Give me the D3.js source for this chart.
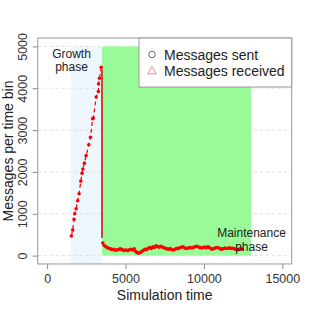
<!DOCTYPE html>
<html lang="en">

<head>
    <meta charset="UTF-8">
    <title>Messages per time bin</title>
    <script src="https://d3js.org/d3.v7.min.js"></script>
    <style>
        body { margin: 0; background: #fff; }
        text { font-family: "Liberation Sans", Arial, sans-serif; }
    </style>
</head>

<body>
    <script>
        // growth phase (time, messages)
        var growthTime = [1550, 1630, 1720, 1760, 1850, 1950, 2040, 2150, 2230, 2280, 2380, 2490, 2660, 2770, 2900, 2950, 3130, 3270, 3280, 3340, 3450];
        var growthValue = [470, 610, 870, 1000, 1120, 1310, 1480, 1780, 1970, 2070, 2210, 2390, 2650, 2830, 3270, 3290, 3790, 3920, 4100, 4240, 4500];

        // maintenance phase, one bin every 100 time units from 3550
        var maintStart = 3550;
        var maintStep = 100;
        var maintValue = [300, 240, 210, 190, 170, 160, 140, 150, 130, 135,
            145, 160, 150, 130, 125, 135, 120, 140, 150, 135,
            160, 100, 70, 60, 75, 105, 125, 150, 140, 175,
            190, 170, 210, 195, 235, 215, 200, 220, 205, 185,
            175, 160, 150, 170, 140, 135, 150, 175, 165, 185,
            200, 210, 190, 170, 175, 185, 195, 180, 200, 210,
            225, 205, 190, 180, 195, 205, 185, 210, 190, 165,
            155, 170, 185, 195, 180, 160, 155, 165, 180, 170,
            175, 185, 170, 175, 160, 150, 140, 155, 165, 150];

        // drop from the last growth bin down to maintenance
        var dropTime = [3500, 3500];
        var dropValue = [4450, 420];

        // phase shading
        var growthPhase = [1500, 3500];
        var maintPhase = [3500, 13000];

        var xTicks = [0, 5000, 10000, 15000];
        var yTicks = [0, 1000, 2000, 3000, 4000, 5000];
        var legendLabels = ["Messages sent", "Messages received"];

        var width = 312;
        var height = 312;

        var x = d3.scaleLinear().domain([0, 15000]).range([47.1, 282.3]);
        var y = d3.scaleLinear().domain([0, 5000]).range([255.6, 46.4]);
        // R style 4% extension for the box
        var boxL = x(-600), boxR = x(15600), boxT = y(5200), boxB = y(-200);

        var svg = d3.select("body")
            .append("svg")
            .attr("width", width)
            .attr("height", height);

        svg.append("rect")
            .attr("x", x(growthPhase[0]))
            .attr("y", y(5000))
            .attr("width", x(growthPhase[1]) - x(growthPhase[0]))
            .attr("height", boxB - y(5000))
            .attr("fill", "#eef6fe");

        svg.selectAll("line.grid")
            .data(yTicks)
            .enter()
            .append("line")
            .attr("class", "grid")
            .attr("x1", boxL)
            .attr("x2", boxR)
            .attr("y1", d => y(d))
            .attr("y2", d => y(d))
            .attr("stroke", "#d8d8d8")
            .attr("stroke-width", 0.8)
            .attr("stroke-dasharray", "3,3");

        svg.append("rect")
            .attr("x", x(maintPhase[0]))
            .attr("y", y(5000))
            .attr("width", x(maintPhase[1]) - x(maintPhase[0]))
            .attr("height", y(0) - y(5000))
            .attr("fill", "#98fb98");

        var growth = growthTime.map((t, i) => [t, growthValue[i]]);
        var maint = maintValue.map((v, i) => [maintStart + i * maintStep, v]);
        var line = d3.line().x(d => x(d[0])).y(d => y(d[1]));

        svg.append("path")
            .attr("d", line(growth))
            .attr("fill", "none")
            .attr("stroke", "#e00")
            .attr("stroke-width", 1.2)
            .attr("stroke-dasharray", "4,3");

        svg.append("path")
            .attr("d", line(dropTime.map((t, i) => [t, dropValue[i]])))
            .attr("fill", "none")
            .attr("stroke", "#d81010")
            .attr("stroke-width", 1.6);

        svg.append("path")
            .attr("d", line(maint))
            .attr("fill", "none")
            .attr("stroke", "#f00")
            .attr("stroke-width", 1.5);

        svg.selectAll("circle.pt")
            .data(growth.concat(maint))
            .enter()
            .append("circle")
            .attr("class", "pt")
            .attr("cx", d => x(d[0]))
            .attr("cy", d => y(d[1]))
            .attr("r", 1.8)
            .attr("fill", "#f00");

        // axes
        var xAxis = svg.append("g")
            .attr("transform", "translate(0," + boxB + ")")
            .call(d3.axisBottom(x).tickValues(xTicks).tickFormat(d3.format("d"))
                .tickSize(5).tickSizeOuter(0));
        xAxis.select(".domain").remove();
        xAxis.selectAll("line").attr("stroke", "#888");
        xAxis.selectAll("text")
            .attr("font-size", "12.5px")
            .attr("fill", "#333")
            .attr("dy", 0)
            .attr("y", 19);

        var yAxis = svg.append("g")
            .attr("transform", "translate(" + boxL + ",0)")
            .call(d3.axisLeft(y).tickValues(yTicks).tickFormat(d3.format("d"))
                .tickSize(5).tickSizeOuter(0));
        yAxis.select(".domain").remove();
        yAxis.selectAll("line").attr("stroke", "#888");
        yAxis.selectAll("text")
            .attr("font-size", "12.5px")
            .attr("fill", "#333")
            .attr("transform", "rotate(-90)")
            .attr("text-anchor", "middle")
            .attr("x", 0)
            .attr("dy", 0)
            .attr("y", -10.5);

        svg.append("rect")
            .attr("x", boxL)
            .attr("y", boxT)
            .attr("width", boxR - boxL)
            .attr("height", boxB - boxT)
            .attr("fill", "none")
            .attr("stroke", "#999")
            .attr("stroke-width", 1);

        // phase notes
        var notes = svg.append("g").attr("font-size", "12px").attr("fill", "#222").attr("text-anchor", "middle");
        notes.append("text").attr("x", 71.5).attr("y", 57.5).text("Growth");
        notes.append("text").attr("x", 71.5).attr("y", 71).text("phase");
        notes.append("text").attr("x", 251.5).attr("y", 237.3).text("Maintenance");
        notes.append("text").attr("x", 251.5).attr("y", 250.5).text("phase");

        // legend
        var legend = svg.append("g");
        legend.append("rect")
            .attr("x", 139)
            .attr("y", boxT)
            .attr("width", boxR - 139)
            .attr("height", 49)
            .attr("fill", "#fff")
            .attr("stroke", "#999");
        legend.append("circle")
            .attr("cx", 152).attr("cy", 54.5).attr("r", 3.2)
            .attr("fill", "none").attr("stroke", "#555").attr("stroke-width", 0.9);
        legend.append("path")
            .attr("d", d3.symbol().type(d3.symbolTriangle).size(30))
            .attr("transform", "translate(152,71.5)")
            .attr("fill", "none").attr("stroke", "#f77").attr("stroke-width", 0.9);
        legend.selectAll("text")
            .data(legendLabels)
            .enter()
            .append("text")
            .attr("x", 164)
            .attr("y", (d, i) => 59.5 + i * 16.7)
            .attr("font-size", "14px")
            .attr("fill", "#222")
            .text(d => d);

        // axis titles
        svg.append("text")
            .attr("x", (boxL + boxR) / 2)
            .attr("y", 300)
            .attr("text-anchor", "middle")
            .attr("font-size", "14px")
            .attr("fill", "#222")
            .text("Simulation time");
        svg.append("text")
            .attr("transform", "translate(13," + (boxT + boxB) / 2 + ") rotate(-90)")
            .attr("text-anchor", "middle")
            .attr("font-size", "14px")
            .attr("fill", "#222")
            .text("Messages per time bin");
    </script>
</body>

</html>
